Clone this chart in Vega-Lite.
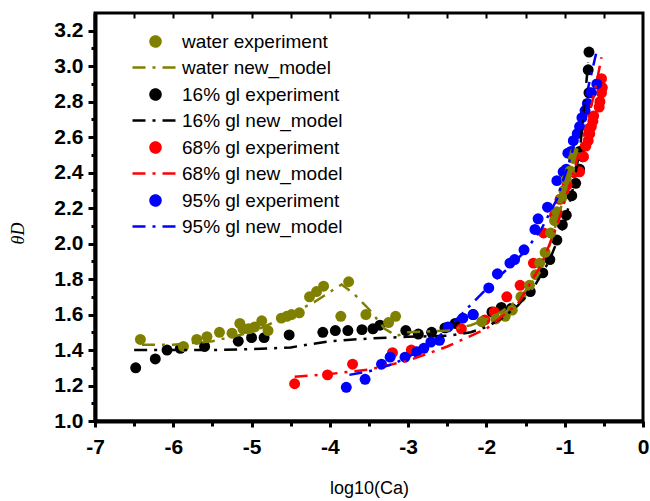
{
  "$schema": "https://vega.github.io/schema/vega-lite/v6.json",
  "width": 548,
  "height": 408,
  "autosize": "none",
  "padding": {"left": 95, "top": 13, "right": 7, "bottom": 80},
  "background": "white",
  "config": {"view": {"stroke": "black", "strokeWidth": 3}, "font": "Liberation Sans", "axis": {"labelOverlap": false}},
  "datasets": {
    "pts": [
      {"s": "16% gl experiment", "x": -6.48, "y": 1.30},
      {"s": "16% gl experiment", "x": -6.23, "y": 1.35},
      {"s": "16% gl experiment", "x": -6.08, "y": 1.40},
      {"s": "16% gl experiment", "x": -5.91, "y": 1.41},
      {"s": "16% gl experiment", "x": -5.60, "y": 1.42},
      {"s": "16% gl experiment", "x": -5.17, "y": 1.45},
      {"s": "16% gl experiment", "x": -5.00, "y": 1.47},
      {"s": "16% gl experiment", "x": -4.84, "y": 1.47},
      {"s": "16% gl experiment", "x": -4.52, "y": 1.485},
      {"s": "16% gl experiment", "x": -4.09, "y": 1.50},
      {"s": "16% gl experiment", "x": -3.93, "y": 1.51},
      {"s": "16% gl experiment", "x": -3.77, "y": 1.51},
      {"s": "16% gl experiment", "x": -3.59, "y": 1.515},
      {"s": "16% gl experiment", "x": -3.45, "y": 1.52},
      {"s": "16% gl experiment", "x": -3.36, "y": 1.54},
      {"s": "16% gl experiment", "x": -3.03, "y": 1.51},
      {"s": "16% gl experiment", "x": -2.87, "y": 1.49},
      {"s": "16% gl experiment", "x": -2.70, "y": 1.50},
      {"s": "16% gl experiment", "x": -2.53, "y": 1.525},
      {"s": "16% gl experiment", "x": -2.40, "y": 1.55},
      {"s": "16% gl experiment", "x": -2.17, "y": 1.60},
      {"s": "16% gl experiment", "x": -1.93, "y": 1.615},
      {"s": "16% gl experiment", "x": -1.81, "y": 1.64},
      {"s": "16% gl experiment", "x": -1.68, "y": 1.635},
      {"s": "16% gl experiment", "x": -1.44, "y": 1.73},
      {"s": "16% gl experiment", "x": -1.28, "y": 1.835},
      {"s": "16% gl experiment", "x": -1.19, "y": 1.91},
      {"s": "16% gl experiment", "x": -1.10, "y": 2.02},
      {"s": "16% gl experiment", "x": -1.03, "y": 2.105},
      {"s": "16% gl experiment", "x": -0.98, "y": 2.16},
      {"s": "16% gl experiment", "x": -0.91, "y": 2.27},
      {"s": "16% gl experiment", "x": -0.86, "y": 2.34},
      {"s": "16% gl experiment", "x": -0.81, "y": 2.42},
      {"s": "16% gl experiment", "x": -0.77, "y": 2.49},
      {"s": "16% gl experiment", "x": -0.81, "y": 2.52},
      {"s": "16% gl experiment", "x": -0.69, "y": 2.85},
      {"s": "16% gl experiment", "x": -0.70, "y": 2.98},
      {"s": "16% gl experiment", "x": -0.69, "y": 3.08},
      {"s": "68% gl experiment", "x": -4.45, "y": 1.21},
      {"s": "68% gl experiment", "x": -4.03, "y": 1.26},
      {"s": "68% gl experiment", "x": -3.71, "y": 1.32},
      {"s": "68% gl experiment", "x": -3.20, "y": 1.385},
      {"s": "68% gl experiment", "x": -2.96, "y": 1.40},
      {"s": "68% gl experiment", "x": -2.32, "y": 1.52},
      {"s": "68% gl experiment", "x": -2.02, "y": 1.57},
      {"s": "68% gl experiment", "x": -1.90, "y": 1.615},
      {"s": "68% gl experiment", "x": -1.74, "y": 1.70},
      {"s": "68% gl experiment", "x": -1.57, "y": 1.765},
      {"s": "68% gl experiment", "x": -1.40, "y": 1.89},
      {"s": "68% gl experiment", "x": -1.27, "y": 2.06},
      {"s": "68% gl experiment", "x": -1.13, "y": 2.16},
      {"s": "68% gl experiment", "x": -1.06, "y": 2.25},
      {"s": "68% gl experiment", "x": -0.97, "y": 2.33},
      {"s": "68% gl experiment", "x": -0.88, "y": 2.40},
      {"s": "68% gl experiment", "x": -0.81, "y": 2.405},
      {"s": "68% gl experiment", "x": -0.76, "y": 2.49},
      {"s": "68% gl experiment", "x": -0.73, "y": 2.55},
      {"s": "68% gl experiment", "x": -0.70, "y": 2.58},
      {"s": "68% gl experiment", "x": -0.68, "y": 2.62},
      {"s": "68% gl experiment", "x": -0.66, "y": 2.66},
      {"s": "68% gl experiment", "x": -0.64, "y": 2.69},
      {"s": "68% gl experiment", "x": -0.63, "y": 2.72},
      {"s": "68% gl experiment", "x": -0.56, "y": 2.77},
      {"s": "68% gl experiment", "x": -0.55, "y": 2.80},
      {"s": "68% gl experiment", "x": -0.53, "y": 2.85},
      {"s": "68% gl experiment", "x": -0.52, "y": 2.88},
      {"s": "68% gl experiment", "x": -0.53, "y": 2.93},
      {"s": "95% gl experiment", "x": -3.79, "y": 1.19},
      {"s": "95% gl experiment", "x": -3.55, "y": 1.235},
      {"s": "95% gl experiment", "x": -3.34, "y": 1.32},
      {"s": "95% gl experiment", "x": -3.23, "y": 1.36},
      {"s": "95% gl experiment", "x": -3.04, "y": 1.36},
      {"s": "95% gl experiment", "x": -2.89, "y": 1.39},
      {"s": "95% gl experiment", "x": -2.80, "y": 1.41},
      {"s": "95% gl experiment", "x": -2.71, "y": 1.445},
      {"s": "95% gl experiment", "x": -2.60, "y": 1.455},
      {"s": "95% gl experiment", "x": -2.49, "y": 1.53},
      {"s": "95% gl experiment", "x": -2.30, "y": 1.58},
      {"s": "95% gl experiment", "x": -2.17, "y": 1.60},
      {"s": "95% gl experiment", "x": -1.97, "y": 1.75},
      {"s": "95% gl experiment", "x": -1.86, "y": 1.83},
      {"s": "95% gl experiment", "x": -1.70, "y": 1.89},
      {"s": "95% gl experiment", "x": -1.64, "y": 1.91},
      {"s": "95% gl experiment", "x": -1.52, "y": 1.965},
      {"s": "95% gl experiment", "x": -1.38, "y": 2.08},
      {"s": "95% gl experiment", "x": -1.34, "y": 2.14},
      {"s": "95% gl experiment", "x": -1.22, "y": 2.205},
      {"s": "95% gl experiment", "x": -1.10, "y": 2.355},
      {"s": "95% gl experiment", "x": -1.02, "y": 2.405},
      {"s": "95% gl experiment", "x": -0.98, "y": 2.42},
      {"s": "95% gl experiment", "x": -0.96, "y": 2.51},
      {"s": "95% gl experiment", "x": -0.92, "y": 2.52},
      {"s": "95% gl experiment", "x": -0.89, "y": 2.58},
      {"s": "95% gl experiment", "x": -0.84, "y": 2.62},
      {"s": "95% gl experiment", "x": -0.81, "y": 2.66},
      {"s": "95% gl experiment", "x": -0.78, "y": 2.71},
      {"s": "95% gl experiment", "x": -0.74, "y": 2.75},
      {"s": "95% gl experiment", "x": -0.71, "y": 2.79},
      {"s": "95% gl experiment", "x": -0.66, "y": 2.85},
      {"s": "95% gl experiment", "x": -0.59, "y": 2.90},
      {"s": "water experiment", "x": -6.42, "y": 1.46},
      {"s": "water experiment", "x": -5.87, "y": 1.42},
      {"s": "water experiment", "x": -5.70, "y": 1.46},
      {"s": "water experiment", "x": -5.57, "y": 1.475},
      {"s": "water experiment", "x": -5.41, "y": 1.50},
      {"s": "water experiment", "x": -5.25, "y": 1.495},
      {"s": "water experiment", "x": -5.15, "y": 1.55},
      {"s": "water experiment", "x": -5.11, "y": 1.52},
      {"s": "water experiment", "x": -5.04, "y": 1.52},
      {"s": "water experiment", "x": -4.96, "y": 1.53},
      {"s": "water experiment", "x": -4.87, "y": 1.565},
      {"s": "water experiment", "x": -4.79, "y": 1.51},
      {"s": "water experiment", "x": -4.62, "y": 1.58},
      {"s": "water experiment", "x": -4.55, "y": 1.59},
      {"s": "water experiment", "x": -4.49, "y": 1.60},
      {"s": "water experiment", "x": -4.39, "y": 1.61},
      {"s": "water experiment", "x": -4.26, "y": 1.70},
      {"s": "water experiment", "x": -4.17, "y": 1.73},
      {"s": "water experiment", "x": -4.08, "y": 1.76},
      {"s": "water experiment", "x": -3.76, "y": 1.785},
      {"s": "water experiment", "x": -3.86, "y": 1.59},
      {"s": "water experiment", "x": -3.54, "y": 1.60},
      {"s": "water experiment", "x": -3.25, "y": 1.555},
      {"s": "water experiment", "x": -3.16, "y": 1.59},
      {"s": "water experiment", "x": -2.06, "y": 1.56},
      {"s": "water experiment", "x": -1.88, "y": 1.575},
      {"s": "water experiment", "x": -1.76, "y": 1.59},
      {"s": "water experiment", "x": -1.67, "y": 1.625},
      {"s": "water experiment", "x": -1.56, "y": 1.70},
      {"s": "water experiment", "x": -1.45, "y": 1.765},
      {"s": "water experiment", "x": -1.37, "y": 1.825},
      {"s": "water experiment", "x": -1.32, "y": 1.89},
      {"s": "water experiment", "x": -1.25, "y": 1.95},
      {"s": "water experiment", "x": -1.18, "y": 2.06},
      {"s": "water experiment", "x": -1.13, "y": 2.13},
      {"s": "water experiment", "x": -1.10, "y": 2.18},
      {"s": "water experiment", "x": -1.04, "y": 2.255},
      {"s": "water experiment", "x": -1.01, "y": 2.30},
      {"s": "water experiment", "x": -0.98, "y": 2.36},
      {"s": "water experiment", "x": -0.93, "y": 2.41},
      {"s": "water experiment", "x": -0.89, "y": 2.48},
      {"s": "water experiment", "x": -0.87, "y": 2.51}
    ],
    "lines": [
      {"s": "water new_model", "x": -6.4, "y": 1.43},
      {"s": "water new_model", "x": -6.0, "y": 1.43},
      {"s": "water new_model", "x": -5.5, "y": 1.45},
      {"s": "water new_model", "x": -5.0, "y": 1.50},
      {"s": "water new_model", "x": -4.6, "y": 1.58},
      {"s": "water new_model", "x": -4.2, "y": 1.67},
      {"s": "water new_model", "x": -3.85, "y": 1.77},
      {"s": "water new_model", "x": -3.7, "y": 1.72},
      {"s": "water new_model", "x": -3.5, "y": 1.63},
      {"s": "water new_model", "x": -3.3, "y": 1.52},
      {"s": "water new_model", "x": -3.15, "y": 1.48},
      {"s": "water new_model", "x": -3.0, "y": 1.50},
      {"s": "water new_model", "x": -2.5, "y": 1.51},
      {"s": "water new_model", "x": -2.2, "y": 1.54},
      {"s": "water new_model", "x": -1.9, "y": 1.59},
      {"s": "water new_model", "x": -1.6, "y": 1.68},
      {"s": "water new_model", "x": -1.4, "y": 1.79},
      {"s": "water new_model", "x": -1.2, "y": 1.98},
      {"s": "water new_model", "x": -1.05, "y": 2.2},
      {"s": "water new_model", "x": -0.95, "y": 2.38},
      {"s": "water new_model", "x": -0.87, "y": 2.52},
      {"s": "16% gl new_model", "x": -6.5, "y": 1.40},
      {"s": "16% gl new_model", "x": -6.0, "y": 1.40},
      {"s": "16% gl new_model", "x": -5.5, "y": 1.40},
      {"s": "16% gl new_model", "x": -5.0, "y": 1.405},
      {"s": "16% gl new_model", "x": -4.5, "y": 1.415},
      {"s": "16% gl new_model", "x": -4.0, "y": 1.45},
      {"s": "16% gl new_model", "x": -3.5, "y": 1.465},
      {"s": "16% gl new_model", "x": -3.0, "y": 1.475},
      {"s": "16% gl new_model", "x": -2.5, "y": 1.48},
      {"s": "16% gl new_model", "x": -2.2, "y": 1.50},
      {"s": "16% gl new_model", "x": -2.0, "y": 1.53},
      {"s": "16% gl new_model", "x": -1.8, "y": 1.58},
      {"s": "16% gl new_model", "x": -1.6, "y": 1.65},
      {"s": "16% gl new_model", "x": -1.4, "y": 1.75},
      {"s": "16% gl new_model", "x": -1.2, "y": 1.90},
      {"s": "16% gl new_model", "x": -1.0, "y": 2.12},
      {"s": "16% gl new_model", "x": -0.9, "y": 2.30},
      {"s": "16% gl new_model", "x": -0.8, "y": 2.55},
      {"s": "16% gl new_model", "x": -0.7, "y": 3.02},
      {"s": "68% gl new_model", "x": -4.45, "y": 1.25},
      {"s": "68% gl new_model", "x": -4.0, "y": 1.265},
      {"s": "68% gl new_model", "x": -3.5, "y": 1.29},
      {"s": "68% gl new_model", "x": -3.0, "y": 1.34},
      {"s": "68% gl new_model", "x": -2.5, "y": 1.42},
      {"s": "68% gl new_model", "x": -2.0, "y": 1.52},
      {"s": "68% gl new_model", "x": -1.6, "y": 1.66},
      {"s": "68% gl new_model", "x": -1.3, "y": 1.88},
      {"s": "68% gl new_model", "x": -1.1, "y": 2.10},
      {"s": "68% gl new_model", "x": -0.9, "y": 2.38},
      {"s": "68% gl new_model", "x": -0.75, "y": 2.62},
      {"s": "68% gl new_model", "x": -0.62, "y": 2.85},
      {"s": "68% gl new_model", "x": -0.53, "y": 3.05},
      {"s": "95% gl new_model", "x": -3.75, "y": 1.26},
      {"s": "95% gl new_model", "x": -3.5, "y": 1.28},
      {"s": "95% gl new_model", "x": -3.2, "y": 1.32},
      {"s": "95% gl new_model", "x": -3.0, "y": 1.36},
      {"s": "95% gl new_model", "x": -2.7, "y": 1.44},
      {"s": "95% gl new_model", "x": -2.5, "y": 1.52},
      {"s": "95% gl new_model", "x": -2.3, "y": 1.61},
      {"s": "95% gl new_model", "x": -2.1, "y": 1.70},
      {"s": "95% gl new_model", "x": -1.9, "y": 1.79},
      {"s": "95% gl new_model", "x": -1.7, "y": 1.87},
      {"s": "95% gl new_model", "x": -1.5, "y": 1.96},
      {"s": "95% gl new_model", "x": -1.3, "y": 2.08},
      {"s": "95% gl new_model", "x": -1.1, "y": 2.25},
      {"s": "95% gl new_model", "x": -0.95, "y": 2.45},
      {"s": "95% gl new_model", "x": -0.8, "y": 2.68},
      {"s": "95% gl new_model", "x": -0.7, "y": 2.88},
      {"s": "95% gl new_model", "x": -0.6, "y": 3.07}
    ]
  },
  "layer": [
    {
      "data": {"name": "pts"},
      "mark": {"type": "point", "filled": true, "opacity": 1, "size": 120},
      "encoding": {
        "x": {
          "field": "x", "type": "quantitative",
          "scale": {"domain": [-7, 0], "nice": false, "zero": false},
          "axis": {
            "orient": "bottom",
            "values": [-7, -6.5, -6, -5.5, -5, -4.5, -4, -3.5, -3, -2.5, -2, -1.5, -1, -0.5, 0],
            "labelExpr": "datum.value % 1 === 0 ? '' + datum.value : ''",
            "labelOverlap": false, "labelBound": false, "labelFlush": false,
            "labelFont": "Liberation Sans", "labelFontSize": 21, "labelFontWeight": "bold", "labelColor": "black",
            "labelPadding": 9,
            "tickSize": {"condition": {"test": "datum.value % 1 === 0", "value": 6}, "value": 5},
            "tickWidth": 3, "tickColor": "black",
            "domainWidth": 4, "domainColor": "black",
            "grid": false,
            "title": "log10(Ca)", "titleFont": "Liberation Sans", "titleFontSize": 18, "titleFontWeight": "normal", "titleColor": "black",
            "titlePadding": 22
          }
        },
        "y": {
          "field": "y", "type": "quantitative",
          "scale": {"domain": [1.0, 3.3], "nice": false, "zero": false},
          "axis": {
            "values": [1.0, 1.1, 1.2, 1.3, 1.4, 1.5, 1.6, 1.7, 1.8, 1.9, 2.0, 2.1, 2.2, 2.3, 2.4, 2.5, 2.6, 2.7, 2.8, 2.9, 3.0, 3.1, 3.2],
            "labelExpr": "round(datum.value * 10) % 2 === 0 ? format(datum.value, '.1f') : ''",
            "labelOverlap": false, "labelBound": false, "labelFlush": false,
            "labelFont": "Liberation Sans", "labelFontSize": 21, "labelFontWeight": "bold", "labelColor": "black",
            "labelPadding": 5,
            "tickSize": {"condition": {"test": "round(datum.value * 10) % 2 === 0", "value": 7}, "value": 4},
            "tickWidth": 3, "tickColor": "black",
            "domainWidth": 4, "domainColor": "black",
            "grid": false,
            "title": "θD", "titleFont": "Liberation Serif", "titleFontSize": 18, "titleFontStyle": "italic", "titleFontWeight": "normal", "titleColor": "black",
            "titleX": -68, "titleY": 220
          }
        },
        "color": {
          "field": "s", "type": "nominal",
          "scale": {
            "domain": ["water experiment", "water new_model", "16% gl experiment", "16% gl new_model", "68% gl experiment", "68% gl new_model", "95% gl experiment", "95% gl new_model"],
            "range": ["#808000", "#808000", "#000000", "#000000", "#ff0000", "#ff0000", "#0000ff", "#0000ff"]
          },
          "legend": {
            "orient": "none", "legendX": 51, "legendY": 19, "title": null,
            "padding": 0, "labelFont": "Liberation Sans", "labelFontSize": 19, "labelColor": "black", "labelLimit": 0,
            "symbolSize": 100, "symbolStrokeWidth": 2.5, "labelOffset": 17, "rowPadding": 6
          }
        },
        "shape": {
          "field": "s", "type": "nominal",
          "scale": {
            "domain": ["water experiment", "water new_model", "16% gl experiment", "16% gl new_model", "68% gl experiment", "68% gl new_model", "95% gl experiment", "95% gl new_model"],
            "range": ["circle", "M-4.6,0H4.6", "circle", "M-4.6,0H4.6", "circle", "M-4.6,0H4.6", "circle", "M-4.6,0H4.6"]
          },
          "legend": {
            "orient": "none", "legendX": 51, "legendY": 19, "title": null,
            "padding": 0, "labelFont": "Liberation Sans", "labelFontSize": 19, "labelColor": "black", "labelLimit": 0,
            "symbolSize": 100, "symbolStrokeWidth": 2.5, "labelOffset": 17, "rowPadding": 6
          }
        }
      }
    },
    {
      "data": {"name": "lines"},
      "mark": {"type": "line", "strokeWidth": 2.5},
      "encoding": {
        "x": {
          "field": "x", "type": "quantitative",
          "axis": {
            "orient": "top",
            "values": [-6.5, -6, -5.5, -5, -4.5, -4, -3.5, -3, -2.5, -2, -1.5, -1, -0.5],
            "labels": false, "domain": false, "grid": false, "title": null,
            "tickSize": -5, "tickWidth": 2, "tickColor": "black"
          }
        },
        "y": {
          "field": "y", "type": "quantitative",
          "axis": {
            "values": [1.0, 1.1, 1.2, 1.3, 1.4, 1.5, 1.6, 1.7, 1.8, 1.9, 2.0, 2.1, 2.2, 2.3, 2.4, 2.5, 2.6, 2.7, 2.8, 2.9, 3.0, 3.1, 3.2],
            "labelExpr": "round(datum.value * 10) % 2 === 0 ? format(datum.value, '.1f') : ''",
            "labelOverlap": false, "labelBound": false, "labelFlush": false,
            "labelFont": "Liberation Sans", "labelFontSize": 21, "labelFontWeight": "bold", "labelColor": "black",
            "labelPadding": 5,
            "tickSize": {"condition": {"test": "round(datum.value * 10) % 2 === 0", "value": 7}, "value": 4},
            "tickWidth": 3, "tickColor": "black",
            "domainWidth": 4, "domainColor": "black",
            "grid": false,
            "title": "θD", "titleFont": "Liberation Serif", "titleFontSize": 18, "titleFontStyle": "italic", "titleFontWeight": "normal", "titleColor": "black",
            "titleX": -68, "titleY": 220
          }
        },
        "color": {"field": "s", "type": "nominal"},
        "strokeDash": {
          "field": "s", "type": "nominal",
          "scale": {
            "domain": ["water experiment", "water new_model", "16% gl experiment", "16% gl new_model", "68% gl experiment", "68% gl new_model", "95% gl experiment", "95% gl new_model"],
            "range": [[1, 0], [13, 7, 3, 7], [1, 0], [13, 7, 3, 7], [1, 0], [13, 7, 3, 7], [1, 0], [13, 7, 3, 7]]
          },
          "legend": {
            "orient": "none", "legendX": 51, "legendY": 19, "title": null,
            "padding": 0, "labelFont": "Liberation Sans", "labelFontSize": 19, "labelColor": "black", "labelLimit": 0,
            "symbolSize": 100, "symbolStrokeWidth": 2.5, "labelOffset": 17, "rowPadding": 6
          }
        }
      }
    }
  ],
  "resolve": {"axis": {"x": "independent"}}
}
